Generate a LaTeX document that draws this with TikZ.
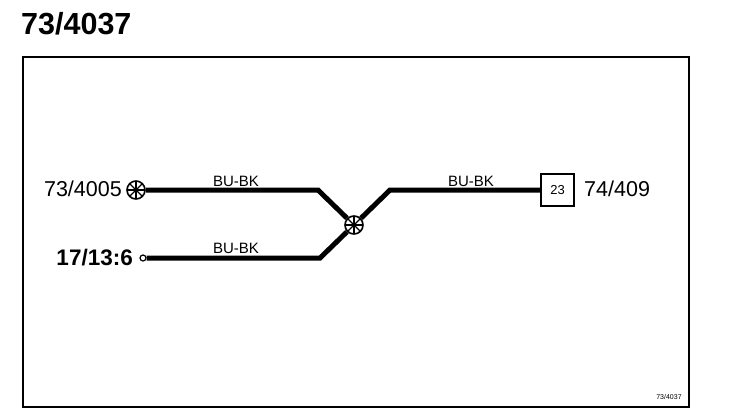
\documentclass[tikz,border=0pt]{standalone}
\usepackage{fontspec}
\setmainfont{Liberation Sans}
\begin{document}
\begin{tikzpicture}[x=1pt, y=-1pt,
  wire/.style={line width=5pt},
  splice/.style={circle, draw, fill=white, line width=1.6pt, minimum size=18pt, inner sep=0pt,
    path picture={\foreach \a in {0,45,90,135}
      \draw[line width=1.2pt] (path picture bounding box.center) ++(\a:10pt) -- ++(\a+180:20pt);}},
  pin/.style={circle, draw, fill=white, line width=1.2pt, minimum size=6pt, inner sep=0pt},
  colour/.style={font=\fontsize{15}{17}\selectfont},
  ref/.style={font=\fontsize{21.5}{25}\selectfont, inner sep=0pt}]
\useasboundingbox (0,0) rectangle (736,416);

\node[font=\fontsize{30.5}{36}\selectfont\bfseries, anchor=west, inner sep=0pt] (title) at (21,23.5) {73/4037};
\draw[line width=2pt] (23,57) rectangle (689,407);
\node[font=\fontsize{7}{8}\selectfont, inner sep=0pt] (tag) at (669,397) {73/4037};

\node[splice] (sp0) at (136,190){};
\node[pin] (end1) at (143,258){};
\node[splice] (sp1) at (354,225){};
\node[draw, line width=1.2pt, minimum width=33pt, minimum height=32pt, inner sep=0pt,
  font=\fontsize{13}{15}\selectfont] (con0) at (557.5,190){23};

\coordinate (bend0) at (318,190);
\coordinate (bend1) at (320,258);
\coordinate (bend2) at (390,190);

\draw[wire](sp0) -- (bend0) -- (sp1);
\draw[wire](end1) -- (bend1) -- (sp1);
\draw[wire](sp1) -- (bend2) -- (con0);

\node[ref, anchor=east] (lab0) at (122,189) {73/4005};
\node[ref, anchor=east, font=\fontsize{22.5}{26}\selectfont\bfseries] (lab1) at (133,258) {17/13:6};
\node[ref, anchor=west] (lab2) at (584,189) {74/409};

\node[colour] (col0) at (236,181) {BU-BK};
\node[colour] (col1) at (236,248) {BU-BK};
\node[colour] (col2) at (471,181) {BU-BK};

\end{tikzpicture}
\end{document}
